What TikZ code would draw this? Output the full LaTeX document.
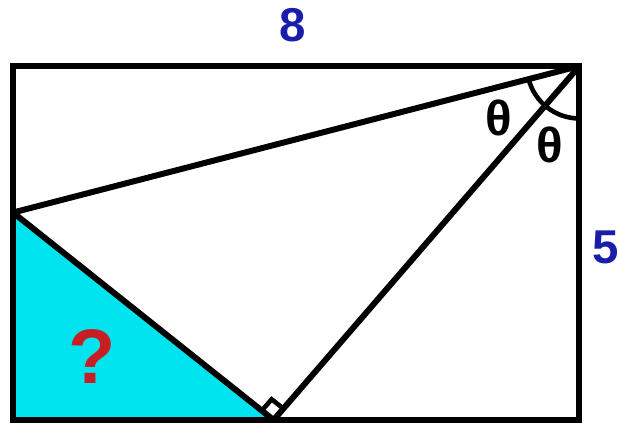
\documentclass[tikz,border=0pt]{standalone}
\usepackage{fontspec}
\setmainfont{Liberation Sans}
\usetikzlibrary{angles,calc}
\definecolor{numblue}{RGB}{25,30,170}
\definecolor{qred}{RGB}{200,30,35}
\definecolor{cyanfill}{RGB}{0,228,240}

\begin{document}
\begin{tikzpicture}[x=1.416cm, y=1.416cm,
  edge/.style={line width=3.4pt, line join=miter},
  numlbl/.style={text=numblue, font=\fontsize{27}{27}\selectfont\bfseries, inner sep=0pt},
  anglbl/.style={font=\fontsize{28}{28}\selectfont\bfseries, inner sep=0pt},
  qlbl/.style={text=qred, font=\fontsize{44}{44}\selectfont\bfseries, inner sep=0pt},
]
\useasboundingbox (-0.184,-0.099) rectangle (8.559,5.932);

\coordinate (A) at (0,0);
\coordinate (B) at (8,0);
\coordinate (C) at (8,5);
\coordinate (D) at (0,5);
\coordinate (Q) at (0,2.93);
\coordinate (P) at (3.68,0);

\fill[cyanfill] (A) -- (Q) -- (P) -- cycle;

\draw[edge] (A) -- (B) -- (C) -- (D) -- cycle;
\draw[edge] (Q) -- (C);
\draw[edge] (Q) -- (P);
\draw[edge] (P) -- (C);

\pic[draw, line width=2.6pt, angle radius=1.05cm] {angle = Q--C--B};
\pic[draw, line width=2.6pt, angle radius=0.3cm] {right angle = Q--P--C};

\node[numlbl] (top) at (3.95,5.57) {8};
\node[numlbl] (side) at (8.37,2.44) {5};
\node[anglbl] (th1) at (6.86,4.27) {θ};
\node[anglbl] (th2) at (7.58,3.89) {θ};
\node[qlbl] (ask) at (1.12,0.90) {?};
\end{tikzpicture}
\end{document}
